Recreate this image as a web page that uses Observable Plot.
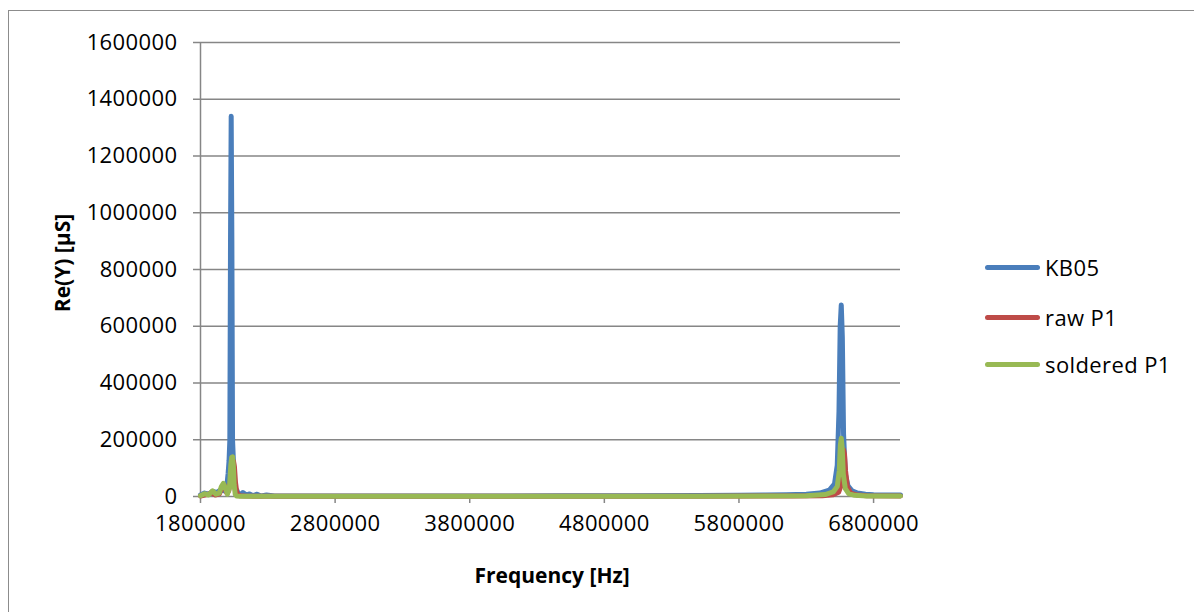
<!DOCTYPE html>
<html>
<head>
<meta charset="utf-8">
<script src="https://cdn.jsdelivr.net/npm/d3@7"></script>
<script src="https://cdn.jsdelivr.net/npm/@observablehq/plot@0.6"></script>
<style>
  html, body { margin:0; padding:0; background:#fff; overflow:hidden; width:1194px; height:612px; }
  #wrap { position:relative; width:1194px; height:612px; font-family:"Open Sans", sans-serif; }
  #frame { position:absolute; left:8px; top:10px; width:1400px; height:800px; border:1.5px solid #8c8c8c; box-sizing:border-box; }
  #chart { position:absolute; left:0; top:0; }
  .ttl { position:absolute; font-weight:bold; font-size:21px; color:#000; white-space:nowrap; }
  #legend { position:absolute; left:985px; top:0; }
  .li { position:absolute; left:0; white-space:nowrap; font-size:22px; letter-spacing:0.4px; color:#000; }
  .sw { position:absolute; left:0; width:55px; height:5px; border-radius:3px; }
  .lt { position:absolute; left:60px; line-height:1; }
</style>
</head>
<body>
<div id="wrap">
  <div id="frame"></div>
  <div id="chart"></div>
  <div class="ttl" id="xt">Frequency [Hz]</div>
  <div class="ttl" id="yt">Re(Y) [µS]</div>
  <div id="legend"></div>
</div>
<script>
// ---- data ----
const seriesNames = ["KB05", "raw P1", "soldered P1"];
const seriesColors = ["#4a7ebb", "#be4b48", "#98b954"];

const kb05Freq = [1800000, 1830000, 1860000, 1890000, 1920000, 1950000, 1975000, 1995000, 2005000, 2012000, 2018000, 2023000, 2028000, 2033000, 2038000, 2045000, 2052000, 2060000, 2070000, 2082000, 2095000, 2115000, 2140000, 2165000, 2190000, 2220000, 2250000, 2290000, 2350000, 2500000, 3000000, 3500000, 4000000, 4500000, 5000000, 5500000, 5800000, 6000000, 6150000, 6300000, 6400000, 6470000, 6510000, 6530000, 6543000, 6552000, 6560000, 6568000, 6577000, 6590000, 6610000, 6640000, 6680000, 6740000, 6800000, 6900000, 7000000];
const kb05Val  = [5000, 12000, 8000, 18000, 14000, 24000, 20000, 35000, 80000, 125000, 200000, 900000, 1340000, 900000, 200000, 120000, 40000, 20000, 22000, 8000, 6000, 14000, 5000, 9000, 3000, 8000, 2000, 5000, 2000, 2000, 2000, 2000, 2000, 2500, 3000, 3500, 4000, 5000, 6000, 8000, 12000, 22000, 45000, 110000, 300000, 600000, 675000, 560000, 220000, 80000, 38000, 20000, 12000, 8000, 6000, 5000, 5000];

const rawFreq = [1800000, 1840000, 1880000, 1910000, 1940000, 1960000, 1977000, 1995000, 2010000, 2025000, 2035000, 2045000, 2052000, 2060000, 2070000, 2090000, 2130000, 2200000, 2500000, 3500000, 4500000, 5500000, 6200000, 6420000, 6500000, 6540000, 6560000, 6570000, 6577000, 6584000, 6592000, 6605000, 6630000, 6680000, 6750000, 7000000];
const rawVal  = [2000, 6000, 12000, 5000, 9000, 30000, 40000, 12000, 20000, 60000, 110000, 125000, 105000, 50000, 12000, 3000, 1500, 1000, 1000, 1000, 1000, 1000, 1500, 3000, 6000, 15000, 40000, 110000, 165000, 150000, 90000, 35000, 12000, 5000, 2500, 1500];

const solFreq = [1800000, 1830000, 1860000, 1890000, 1915000, 1940000, 1955000, 1970000, 1985000, 2000000, 2015000, 2025000, 2032000, 2038000, 2044000, 2050000, 2058000, 2068000, 2090000, 2150000, 2300000, 2800000, 3500000, 4500000, 5500000, 6000000, 6300000, 6440000, 6500000, 6530000, 6545000, 6553000, 6560000, 6567000, 6575000, 6590000, 6615000, 6660000, 6750000, 7000000];
const solVal  = [3000, 10000, 5000, 20000, 8000, 12000, 35000, 46000, 30000, 8000, 30000, 110000, 138000, 140000, 110000, 40000, 8000, 2000, 1000, 1000, 1000, 1000, 1000, 1000, 1000, 1500, 3000, 7000, 16000, 35000, 90000, 180000, 205000, 170000, 80000, 28000, 10000, 4000, 2000, 1500];

const xTicks = [1800000, 2800000, 3800000, 4800000, 5800000, 6800000];
const yTicks = [0, 200000, 400000, 600000, 800000, 1000000, 1200000, 1400000, 1600000];

// ---- build table ----
function rows(name, fr, vals) { return fr.map((f, i) => ({series: name, freq: f, val: vals[i]})); }
const data = [
  ...rows("KB05", kb05Freq, kb05Val),
  ...rows("raw P1", rawFreq, rawVal),
  ...rows("soldered P1", solFreq, solVal)
];

const W = 1194, H = 612;
const chart = Plot.plot({
  width: W, height: H,
  marginLeft: 200, marginRight: 294, marginTop: 42, marginBottom: 116,
  style: { fontFamily: "Open Sans, sans-serif", fontSize: "22px", letterSpacing: "0.4px", color: "#000", background: "transparent", overflow: "visible" },
  x: { domain: [1800000, 7000000] },
  y: { domain: [0, 1600000] },
  color: { domain: seriesNames, range: seriesColors },
  marks: [
    Plot.gridY(yTicks, { stroke: "#868686", strokeOpacity: 1, strokeWidth: 1.5 }),
    Plot.ruleX([1800000], { stroke: "#868686", strokeWidth: 1.5 }),
    Plot.axisY(yTicks, { tickSize: 7, tickPadding: 16, tickFormat: d => String(d), stroke: "#868686", strokeWidth: 1.5, fill: "#000", label: null }),
    Plot.axisX(xTicks, { tickSize: 7, tickPadding: 12, tickFormat: d => String(d), stroke: "#868686", strokeWidth: 1.5, fill: "#000", label: null }),
    Plot.line(data, { x: "freq", y: "val", z: "series", stroke: "series", strokeWidth: 5, strokeLinejoin: "round", strokeLinecap: "round" })
  ]
});
document.getElementById("chart").appendChild(chart);

// axis titles
const xt = document.getElementById("xt");
xt.style.left = (552 - xt.offsetWidth / 2) + "px";
xt.style.top = (575 - xt.offsetHeight / 2) + "px";
const yt = document.getElementById("yt");
yt.style.left = (62 - yt.offsetWidth / 2) + "px";
yt.style.top = (263 - yt.offsetHeight / 2) + "px";
yt.style.transform = "rotate(-90deg)";

// legend
const legY = [267, 317, 364];
const leg = document.getElementById("legend");
seriesNames.forEach((n, i) => {
  const sw = document.createElement("div");
  sw.className = "sw";
  sw.style.top = (legY[i] - 2.5) + "px";
  sw.style.background = seriesColors[i];
  leg.appendChild(sw);
  const t = document.createElement("div");
  t.className = "li lt";
  t.textContent = n;
  leg.appendChild(t);
  t.style.top = (legY[i] - t.offsetHeight / 2) + "px";
});
</script>
</body>
</html>
